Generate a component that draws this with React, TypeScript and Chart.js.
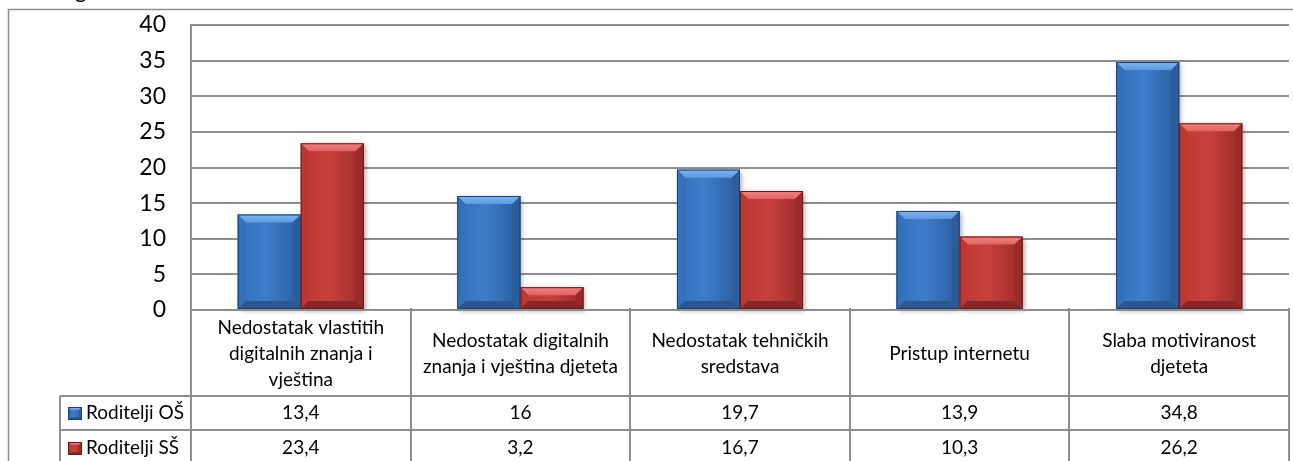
import React, { useEffect, useRef } from 'react';
import { Chart, registerables } from 'chart.js';

Chart.register(...registerables);

const categories: string[][] = [
  ['Nedostatak vlastitih', 'digitalnih znanja i', 'vještina'],
  ['Nedostatak digitalnih', 'znanja i vještina djeteta'],
  ['Nedostatak tehničkih', 'sredstava'],
  ['Pristup internetu'],
  ['Slaba motiviranost', 'djeteta'],
];
const seriesNames = ['Roditelji OŠ', 'Roditelji SŠ'];
const valuesOS = [13.4, 16, 19.7, 13.9, 34.8];
const valuesSS = [23.4, 3.2, 16.7, 10.3, 26.2];
const yMin = 0;
const yMax = 40;
const yStep = 5;

const FONT = 'Lato, "Open Sans", sans-serif';
const GRID = '#8e8e8e';

type Pal = { mid: string; left: string; right: string; top: string; topHi: string; bottom: string; edge: string };
const palettes: Pal[] = [
  { mid: '#3d7dca', left: '#3471bb', right: '#2b5c9c', top: '#5e9ae0', topHi: '#80b4ee', bottom: '#2a5790', edge: '#1f4170' },
  { mid: '#c8403d', left: '#bb3835', right: '#9a2b28', top: '#e26360', topHi: '#f08482', bottom: '#892523', edge: '#691b19' },
];

function fmt(v: number) {
  return String(v).replace('.', ',');
}

function poly(ctx: CanvasRenderingContext2D, pts: number[][], fill: string | CanvasGradient) {
  ctx.beginPath();
  ctx.moveTo(pts[0][0], pts[0][1]);
  for (let i = 1; i < pts.length; i++) ctx.lineTo(pts[i][0], pts[i][1]);
  ctx.closePath();
  ctx.fillStyle = fill;
  ctx.fill();
}

function bevelRect(ctx: CanvasRenderingContext2D, L: number, T: number, R: number, B: number, pal: Pal, bev: number) {
  const w = R - L;
  const h = B - T;
  const b = Math.min(bev, w / 2, h / 2);
  const g = ctx.createLinearGradient(L, 0, R, 0);
  g.addColorStop(0, pal.left);
  g.addColorStop(0.45, pal.mid);
  g.addColorStop(1, pal.right);
  ctx.fillStyle = g;
  ctx.fillRect(L, T, w, h);
  const tg = ctx.createLinearGradient(0, T, 0, T + b);
  tg.addColorStop(0, pal.topHi);
  tg.addColorStop(1, pal.top);
  poly(ctx, [[L, T], [R, T], [R - b, T + b], [L + b, T + b]], tg);
  poly(ctx, [[L, T], [L + b, T + b], [L + b, B - b], [L, B]], pal.left);
  poly(ctx, [[R, T], [R, B], [R - b, B - b], [R - b, T + b]], pal.right);
  poly(ctx, [[L, B], [L + b, B - b], [R - b, B - b], [R, B]], pal.bottom);
  ctx.strokeStyle = pal.edge;
  ctx.lineWidth = 1;
  ctx.strokeRect(L + 0.5, T + 0.5, w - 1, h - 1);
}

const bevelPlugin = {
  id: 'bevelBars',
  beforeDatasetsDraw(chart: any) {
    const ctx = chart.ctx as CanvasRenderingContext2D;
    ctx.save();
    ctx.shadowColor = 'rgba(0,0,0,0.35)';
    ctx.shadowBlur = 5;
    ctx.shadowOffsetX = 2;
    ctx.shadowOffsetY = 2;
    chart.data.datasets.forEach((_: any, di: number) => {
      const meta = chart.getDatasetMeta(di);
      meta.data.forEach((el: any) => {
        const p = el.getProps(['x', 'y', 'base', 'width'], true);
        ctx.fillStyle = '#ffffff';
        ctx.fillRect(p.x - p.width / 2, p.y, p.width, p.base - p.y);
      });
    });
    ctx.restore();
  },
  afterDatasetsDraw(chart: any) {
    const ctx = chart.ctx as CanvasRenderingContext2D;
    ctx.save();
    chart.data.datasets.forEach((_: any, di: number) => {
      const meta = chart.getDatasetMeta(di);
      meta.data.forEach((el: any) => {
        const p = el.getProps(['x', 'y', 'base', 'width'], true);
        bevelRect(ctx, p.x - p.width / 2, p.y, p.x + p.width / 2, p.base, palettes[di], 8);
      });
    });
    ctx.restore();
  },
};

const tablePlugin = {
  id: 'dataTable',
  afterDraw(chart: any) {
    const ctx = chart.ctx as CanvasRenderingContext2D;
    const area = chart.chartArea;
    const xs = chart.scales.x;
    const n = categories.length;
    const colW = (area.right - area.left) / n;
    const top = area.bottom;
    const headerB = top + 86;
    const row1B = headerB + 34;
    const row2B = row1B + 34;
    const legL = 60;
    ctx.save();
    ctx.strokeStyle = GRID;
    ctx.lineWidth = 1.5;
    ctx.beginPath();
    ctx.moveTo(8.5, 2000);
    ctx.lineTo(8.5, 9.5);
    ctx.lineTo(2000, 9.5);
    ctx.stroke();

    ctx.lineWidth = 2;
    ctx.strokeStyle = GRID;
    ctx.beginPath();
    ctx.moveTo(area.left, top);
    ctx.lineTo(area.right, top);
    ctx.moveTo(legL, headerB);
    ctx.lineTo(area.right, headerB);
    ctx.moveTo(legL, row1B);
    ctx.lineTo(area.right, row1B);
    ctx.moveTo(legL, row2B);
    ctx.lineTo(area.right, row2B);
    for (let i = 0; i <= n; i++) {
      const cx = Math.round(xs.getPixelForValue(0) - colW / 2 + i * colW);
      ctx.moveTo(cx, top - 2);
      ctx.lineTo(cx, row2B + 2);
    }
    ctx.moveTo(legL, headerB);
    ctx.lineTo(legL, row2B + 2);
    ctx.stroke();

    ctx.fillStyle = '#000';
    ctx.textAlign = 'center';
    ctx.textBaseline = 'middle';
    ctx.font = `19px ${FONT}`;
    const lh = 26;
    categories.forEach((lines, i) => {
      const cx = xs.getPixelForValue(i);
      const cy = (top + headerB) / 2 + 1;
      const start = cy - ((lines.length - 1) * lh) / 2;
      lines.forEach((ln, j) => ctx.fillText(ln, cx, start + j * lh));
    });
    const rows = [valuesOS, valuesSS];
    const rowMid = [(headerB + row1B) / 2, (row1B + row2B) / 2 + 1];
    rows.forEach((vals, r) => {
      vals.forEach((v, i) => {
        ctx.fillText(fmt(v), xs.getPixelForValue(i), rowMid[r]);
      });
      bevelRect(ctx, 68, rowMid[r] - 6, 82, rowMid[r] + 7, palettes[r], 3);
      ctx.fillStyle = '#000';
      ctx.textAlign = 'left';
      ctx.fillText(seriesNames[r], 86, rowMid[r]);
      ctx.textAlign = 'center';
    });

    ctx.textAlign = 'left';
    ctx.textBaseline = 'alphabetic';
    ctx.font = `22px ${FONT}`;
    ctx.fillText('g', 75, -2);
    ctx.restore();
  },
};

export default function App() {
  const ref = useRef<HTMLCanvasElement | null>(null);
  useEffect(() => {
    if (!ref.current) return;
    const chart = new Chart(ref.current, {
      type: 'bar',
      data: {
        labels: categories.map((c) => c.join(' ')),
        datasets: [
          { label: seriesNames[0], data: valuesOS, backgroundColor: palettes[0].mid, barPercentage: 1, categoryPercentage: 0.574 },
          { label: seriesNames[1], data: valuesSS, backgroundColor: palettes[1].mid, barPercentage: 1, categoryPercentage: 0.574 },
        ],
      },
      options: {
        animation: false,
        responsive: false,
        devicePixelRatio: 1,
        layout: { padding: { top: 25, right: 4, bottom: 151, left: 0 } },
        plugins: { legend: { display: false }, tooltip: { enabled: false } },
        scales: {
          x: { display: false },
          y: {
            min: yMin,
            max: yMax,
            ticks: { stepSize: yStep, padding: 25, color: '#000', font: { family: FONT, size: 23 } },
            grid: { color: GRID, lineWidth: 2, drawTicks: false },
            border: { display: true, color: GRID, width: 2 },
            afterFit: (s: any) => {
              s.width = 191;
              s.paddingTop = 0;
              s.paddingBottom = 0;
            },
          },
        },
      },
      plugins: [bevelPlugin, tablePlugin],
    });
    return () => chart.destroy();
  }, []);
  return (
    <div style={{ position: 'fixed', left: 0, top: 0, width: 1293, height: 461, background: '#fff' }}>
      <canvas ref={ref} width={1293} height={461} style={{ display: 'block' }} />
    </div>
  );
}
